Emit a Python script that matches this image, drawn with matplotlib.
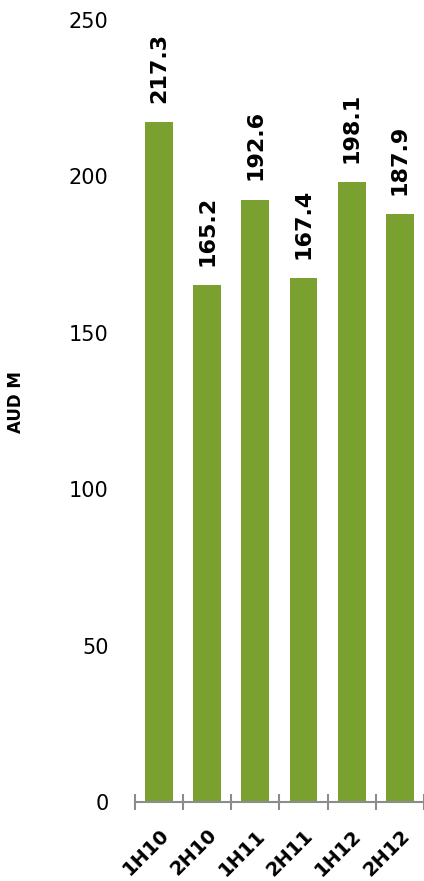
import numpy as np
import matplotlib
matplotlib.use("Agg")
import matplotlib.pyplot as plt
from matplotlib.ticker import FixedLocator

# --- Data ---
periods = ["1H10", "2H10", "1H11", "2H11", "1H12", "2H12"]
values = [217.3, 165.2, 192.6, 167.4, 198.1, 187.9]
y_ticks = [0, 50, 100, 150, 200, 250]

BAR_COLOR = "#7aa130"
AXIS_GREY = "#8c8c8c"

plt.rcParams["font.family"] = ["DejaVu Sans"]

fig = plt.figure(figsize=(4.24, 8.81), dpi=100)
ax = fig.add_axes([0.318, 0.0897, 0.682, 0.8876])

x = np.arange(len(periods))
bars = ax.bar(x, values, width=0.58, color=BAR_COLOR, zorder=2)

# value labels above each bar, written vertically
for rect, v in zip(bars, values):
    ax.annotate(f"{v:.1f}",
                xy=(rect.get_x() + rect.get_width() / 2, rect.get_height()),
                xytext=(0, 14), textcoords="offset points",
                rotation=90, ha="center", va="bottom",
                fontsize=16, fontweight="bold", color="black")

ax.set_xlim(-0.5, len(periods) - 0.5)
ax.set_ylim(0, 250)
ax.set_yticks(y_ticks)
ax.tick_params(axis="y", length=0, pad=19, labelsize=15, colors="black")

# category labels at centres, tick marks at category boundaries
ax.set_xticks(x)
ax.set_xticklabels(periods, rotation=45, ha="right", rotation_mode="anchor",
                   fontsize=14, fontweight="bold")
ax.tick_params(axis="x", which="major", length=0, pad=17)
ax.xaxis.set_minor_locator(FixedLocator(np.arange(-0.5, len(periods), 1.0)))
ax.tick_params(axis="x", which="minor", direction="inout", length=12,
               width=1.5, color=AXIS_GREY)

for side in ["left", "right", "top"]:
    ax.spines[side].set_visible(False)
ax.spines["bottom"].set_color(AXIS_GREY)
ax.spines["bottom"].set_linewidth(1.5)

fig.text(0.038, 0.544, "AUD M", rotation=90, ha="center", va="center",
         fontsize=12, fontweight="bold")

fig.savefig("out.png", dpi=100)
